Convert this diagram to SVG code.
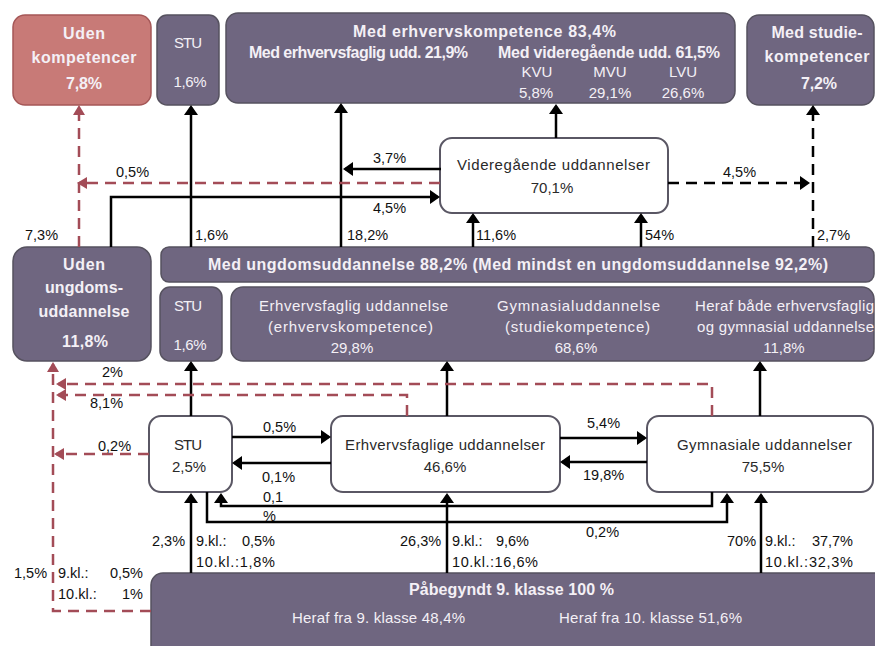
<svg xmlns="http://www.w3.org/2000/svg" width="875" height="646" viewBox="0 0 875 646">
<style>
.pb{fill:#6f6680;stroke:#56525f;stroke-width:1.5}
.rb{fill:#c87a77;stroke:#a55757;stroke-width:1.5}
.wb{fill:#fff;stroke:#5a5764;stroke-width:2}
text{font-family:"Liberation Sans",Arial,sans-serif}
.lt{fill:#f4f0f6;font-size:15px}
.ltb{fill:#f4f0f6;font-size:16px;font-weight:bold}
.dt{fill:#2a2a2a;font-size:15px}
.lb{fill:#111;font-size:14.5px}
.k{fill:none;stroke:#000;stroke-width:2.5}
.kd{fill:none;stroke:#000;stroke-width:2.5;stroke-dasharray:11 7}
.rd{fill:none;stroke:#a34c57;stroke-width:2.5;stroke-dasharray:11 7}
.c{text-anchor:middle}
</style>
<defs>
<marker id="ab" viewBox="0 0 10 14" refX="8" refY="7" markerWidth="10" markerHeight="14" markerUnits="userSpaceOnUse" orient="auto"><path d="M0,0 L10,7 L0,14 z" fill="#000"/></marker>
<marker id="ar" viewBox="0 0 10 12" refX="8" refY="6" markerWidth="10" markerHeight="12" markerUnits="userSpaceOnUse" orient="auto"><path d="M0,0 L10,6 L0,12 z" fill="#a34c57"/></marker>
</defs>

<g id="uden-kompetencer">
<rect class="rb" x="13" y="15" width="138" height="90" rx="12"/>
<text class="ltb c" x="84" y="39" textLength="42">Uden</text>
<text class="ltb c" x="84" y="63" textLength="105">kompetencer</text>
<text class="ltb c" x="84" y="89" textLength="36">7,8%</text>
</g>

<g id="stu-top">
<rect class="pb" x="157" y="15" width="62" height="90" rx="10"/>
<text class="lt c" x="188" y="48" textLength="28">STU</text>
<text class="lt c" x="190" y="87" textLength="33">1,6%</text>
</g>

<g id="med-erhvervskompetence">
<rect class="pb" x="226" y="13" width="509" height="90" rx="12"/>
<text class="ltb" x="353" y="37" textLength="263">Med erhvervskompetence 83,4%</text>
<text class="ltb" x="249" y="58" textLength="219">Med erhvervsfaglig udd. 21,9%</text>
<text class="ltb" x="498" y="58" textLength="222">Med videregående udd.  61,5%</text>
<text class="lt c" x="537" y="77">KVU</text>
<text class="lt c" x="610" y="77">MVU</text>
<text class="lt c" x="683" y="77">LVU</text>
<text class="lt c" x="536" y="98">5,8%</text>
<text class="lt c" x="610" y="98">29,1%</text>
<text class="lt c" x="683" y="98">26,6%</text>
</g>

<g id="med-studiekompetencer">
<rect class="pb" x="747" y="15" width="127" height="90" rx="12"/>
<text class="ltb c" x="817" y="38" textLength="91">Med studie-</text>
<text class="ltb c" x="817" y="62" textLength="105">kompetencer</text>
<text class="ltb c" x="819" y="89" textLength="36">7,2%</text>
</g>

<g id="videregaaende">
<rect class="wb" x="440" y="138" width="228" height="75" rx="12"/>
<text class="dt" x="457" y="170" textLength="193">Videregående uddannelser</text>
<text class="dt c" x="552" y="193">70,1%</text>
</g>

<g id="med-ungdomsuddannelse">
<rect class="pb" x="161" y="247" width="713" height="35" rx="8"/>
<text class="ltb" x="208" y="270" textLength="620">Med ungdomsuddannelse 88,2%  (Med mindst en ungdomsuddannelse 92,2%)</text>
</g>

<g id="uden-ungdomsuddannelse">
<rect class="pb" x="13" y="247" width="138" height="114" rx="14"/>
<text class="ltb c" x="84" y="270" textLength="42">Uden</text>
<text class="ltb c" x="84" y="293" textLength="78">ungdoms-</text>
<text class="ltb c" x="84" y="317" textLength="91">uddannelse</text>
<text class="ltb c" x="85" y="347" textLength="46">11,8%</text>
</g>

<g id="stu-mid">
<rect class="pb" x="160" y="287" width="62" height="74" rx="10"/>
<text class="lt c" x="188" y="311" textLength="28">STU</text>
<text class="lt c" x="190" y="350" textLength="33">1,6%</text>
</g>

<g id="kompetencer-detalje">
<rect class="pb" x="231" y="287" width="643" height="74" rx="12"/>
<text class="lt" x="259" y="311" textLength="189">Erhvervsfaglig uddannelse</text>
<text class="lt" x="268" y="332" textLength="165">(erhvervskompetence)</text>
<text class="lt c" x="352" y="353">29,8%</text>
<text class="lt" x="497" y="311" textLength="163">Gymnasialuddannelse</text>
<text class="lt" x="505" y="332" textLength="145">(studiekompetence)</text>
<text class="lt c" x="576" y="353">68,6%</text>
<text class="lt" x="695" y="311" textLength="179">Heraf både erhvervsfaglig</text>
<text class="lt" x="697" y="332" textLength="177">og gymnasial uddannelse</text>
<text class="lt c" x="784" y="353">11,8%</text>
</g>

<g id="stu-bund">
<rect class="wb" x="149" y="416" width="83" height="76" rx="12"/>
<text class="dt c" x="188" y="450" textLength="28">STU</text>
<text class="dt c" x="189" y="472" textLength="34">2,5%</text>
</g>

<g id="erhvervsfaglige">
<rect class="wb" x="331" y="416" width="229" height="76" rx="12"/>
<text class="dt" x="345" y="450" textLength="200">Erhvervsfaglige uddannelser</text>
<text class="dt c" x="445" y="472">46,6%</text>
</g>

<g id="gymnasiale">
<rect class="wb" x="647" y="416" width="226" height="76" rx="12"/>
<text class="dt" x="677" y="450" textLength="175">Gymnasiale uddannelser</text>
<text class="dt c" x="763" y="472">75,5%</text>
</g>

<g id="paabegyndt">
<rect class="pb" x="151" y="573" width="740" height="90" rx="12"/>
<text class="ltb" x="409" y="595" textLength="205">Påbegyndt 9. klasse 100 %</text>
<text class="lt" x="292" y="623" textLength="173">Heraf fra 9. klasse 48,4%</text>
<text class="lt" x="559" y="623" textLength="183">Heraf fra 10. klasse 51,6%</text>
</g>

<g id="connectors">
<path class="k" d="M191,247 V107" marker-end="url(#ab)"/>
<path class="k" d="M341,247 V105" marker-end="url(#ab)"/>
<path class="k" d="M441,169 H345" marker-end="url(#ab)"/>
<path class="k" d="M111,247 V197 H438" marker-end="url(#ab)"/>
<path class="k" d="M556,138 V106" marker-end="url(#ab)"/>
<path class="k" d="M473,247 V215" marker-end="url(#ab)"/>
<path class="k" d="M641,247 V215" marker-end="url(#ab)"/>
<path class="k" d="M191,416 V363" marker-end="url(#ab)"/>
<path class="k" d="M447,416 V363" marker-end="url(#ab)"/>
<path class="k" d="M760,416 V363" marker-end="url(#ab)"/>
<path class="k" d="M232,437 H329" marker-end="url(#ab)"/>
<path class="k" d="M331,463 H234" marker-end="url(#ab)"/>
<path class="k" d="M560,438 H645" marker-end="url(#ab)"/>
<path class="k" d="M647,462 H562" marker-end="url(#ab)"/>
<path class="k" d="M712,492 V506 H221 V495" marker-end="url(#ab)"/>
<path class="k" d="M207,492 V522 H727 V495" marker-end="url(#ab)"/>
<path class="k" d="M191,573 V495" marker-end="url(#ab)"/>
<path class="k" d="M447,573 V495" marker-end="url(#ab)"/>
<path class="k" d="M761,573 V495" marker-end="url(#ab)"/>
<path class="kd" d="M668,183 H808" marker-end="url(#ab)"/>
<path class="kd" d="M813,247 V107" marker-end="url(#ab)"/>
<path class="rd" d="M79,247 V107" marker-end="url(#ar)"/>
<path class="rd" d="M440,183 H79" marker-end="url(#ar)"/>
<path class="rd" d="M712,416 V384 H58" marker-end="url(#ar)"/>
<path class="rd" d="M407,416 V395 H58" marker-end="url(#ar)"/>
<path class="rd" d="M149,454 H56" marker-end="url(#ar)"/>
<path class="rd" d="M151,611 H53 V364" marker-end="url(#ar)"/>
</g>

<g id="labels">
<text class="lb" x="25" y="240">7,3%</text>
<text class="lb" x="116" y="177">0,5%</text>
<text class="lb" x="195" y="240">1,6%</text>
<text class="lb" x="347" y="240">18,2%</text>
<text class="lb" x="373" y="163">3,7%</text>
<text class="lb" x="373" y="213">4,5%</text>
<text class="lb" x="476" y="240">11,6%</text>
<text class="lb" x="645" y="240">54%</text>
<text class="lb" x="723" y="177">4,5%</text>
<text class="lb" x="817" y="240">2,7%</text>
<text class="lb" x="102" y="377">2%</text>
<text class="lb" x="90" y="408">8,1%</text>
<text class="lb" x="98" y="451">0,2%</text>
<text class="lb" x="263" y="432">0,5%</text>
<text class="lb" x="262" y="482">0,1%</text>
<text class="lb" x="263" y="502">0,1</text>
<text class="lb" x="263" y="521">%</text>
<text class="lb" x="587" y="428">5,4%</text>
<text class="lb" x="583" y="480">19,8%</text>
<text class="lb" x="586" y="537">0,2%</text>
<text class="lb" x="152" y="546">2,3%</text>
<text class="lb" x="196" y="546">9.kl.:</text>
<text class="lb" x="275" y="546" text-anchor="end">0,5%</text>
<text class="lb" x="196" y="567" textLength="79">10.kl.:1,8%</text>
<text class="lb" x="400" y="546">26,3%</text>
<text class="lb" x="452" y="546">9.kl.:</text>
<text class="lb" x="529" y="546" text-anchor="end">9,6%</text>
<text class="lb" x="452" y="567" textLength="86">10.kl.:16,6%</text>
<text class="lb" x="727" y="546">70%</text>
<text class="lb" x="765" y="546">9.kl.:</text>
<text class="lb" x="853" y="546" text-anchor="end">37,7%</text>
<text class="lb" x="765" y="567" textLength="88">10.kl.:32,3%</text>
<text class="lb" x="14" y="578">1,5%</text>
<text class="lb" x="58" y="578">9.kl.:</text>
<text class="lb" x="143" y="578" text-anchor="end">0,5%</text>
<text class="lb" x="58" y="599">10.kl.:</text>
<text class="lb" x="143" y="599" text-anchor="end">1%</text>
</g>
</svg>
